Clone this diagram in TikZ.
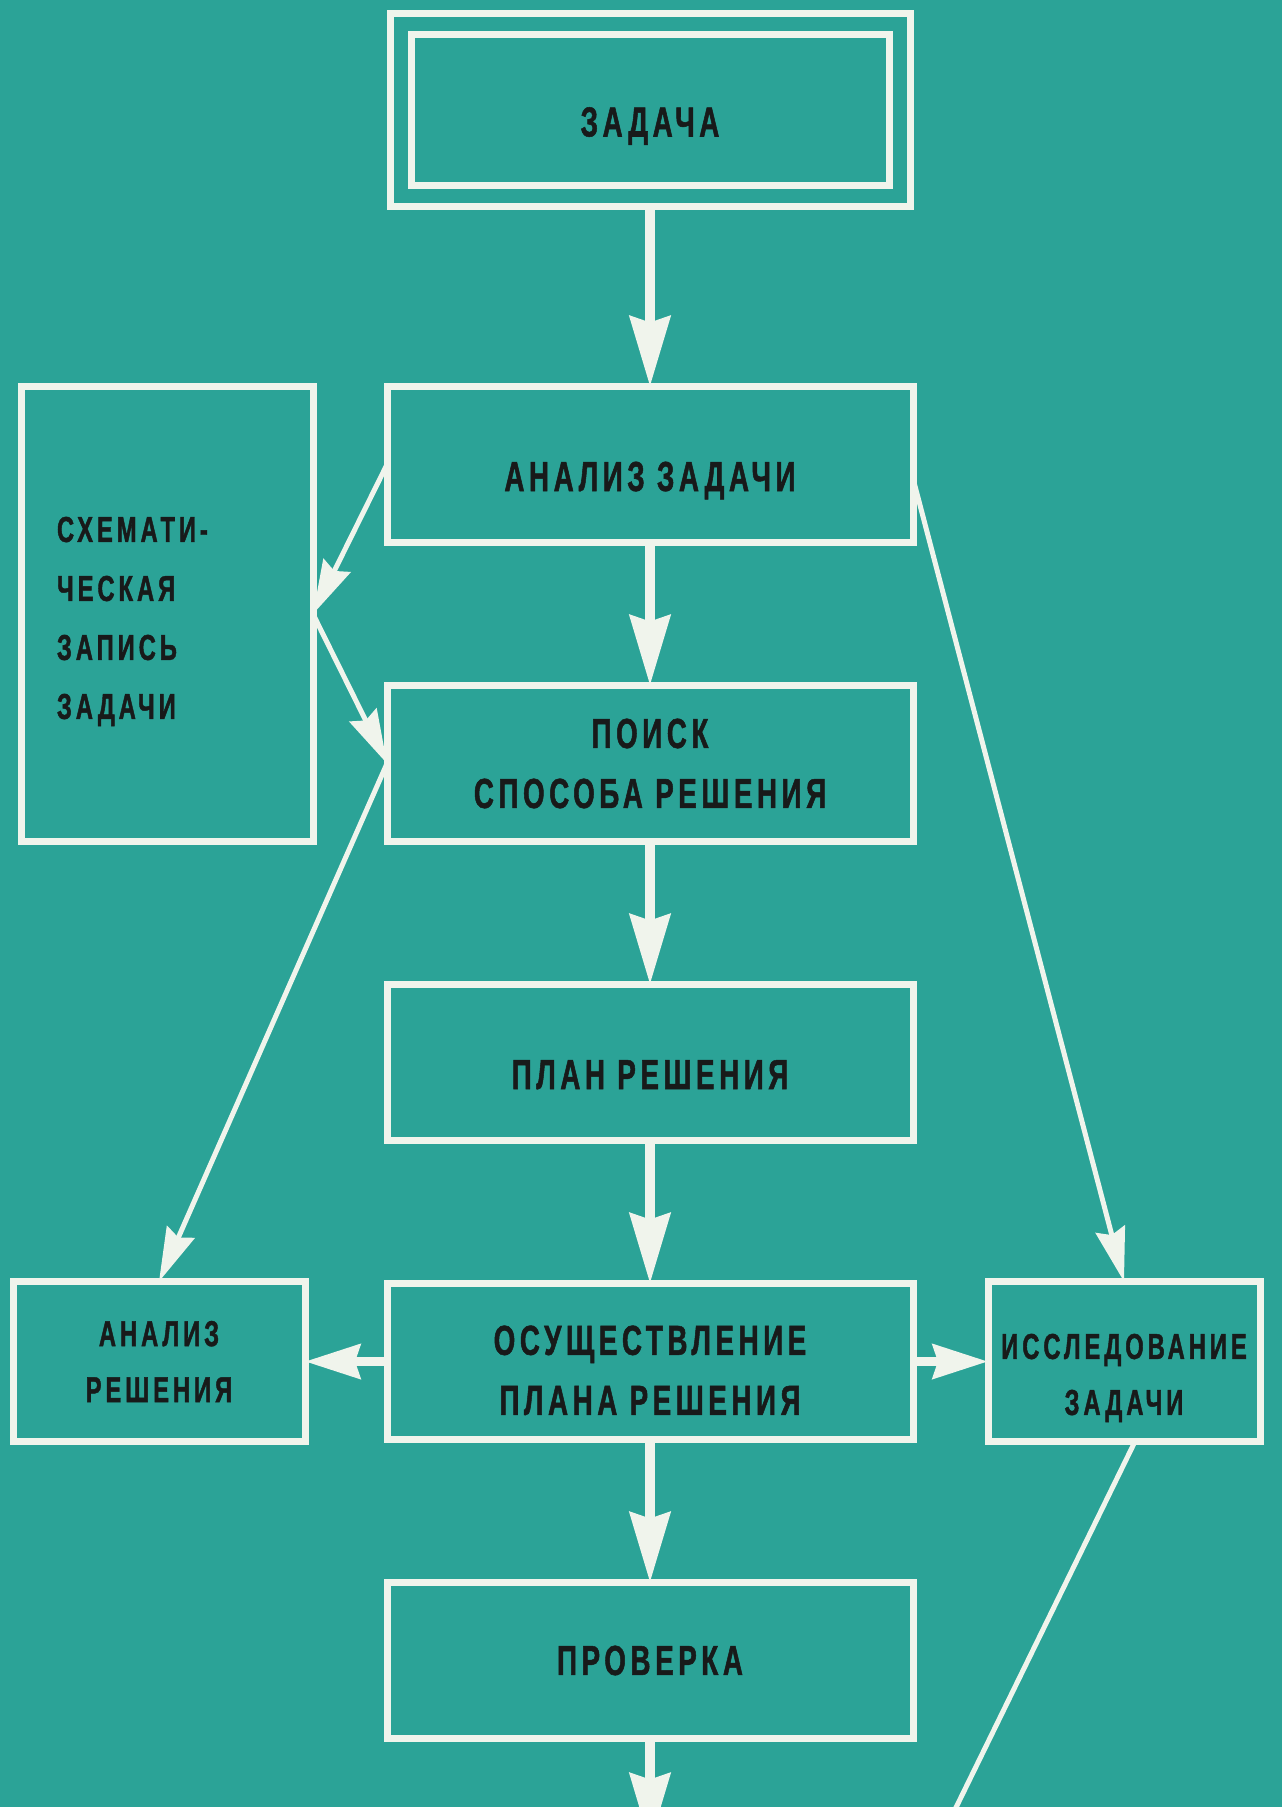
\documentclass[tikz,border=0pt]{standalone}
\usepackage{fontspec}
\newfontfamily\boxfont{Liberation Sans}[FakeStretch=0.66,LetterSpace=11,FakeBold=1.2]
\usetikzlibrary{arrows.meta, positioning, calc}

\definecolor{sea}{RGB}{43,163,151}
\definecolor{chalk}{RGB}{240,244,236}
\definecolor{ink}{RGB}{24,26,26}

\begin{document}
\begin{tikzpicture}[
    x=1pt, y=-1pt,
    node distance=143pt,
    box/.style={rectangle, draw=chalk, line width=7pt, minimum width=526pt, minimum height=156pt, outer sep=0pt, text=ink, align=center, font=\boxfont\bfseries\fontsize{42}{60}\selectfont},
    lowered/.style={text height=53pt, text depth=0pt},
    sidebox/.style={box, minimum width=292pt, minimum height=160pt, font=\boxfont\bfseries\fontsize{36}{56}\selectfont},
    arrow/.style={chalk, line width=10pt, -{Stealth[length=70pt, width=40pt, inset=6pt]}},
    sidearrow/.style={chalk, line width=9pt, -{Stealth[length=55pt, width=34pt, inset=5pt]}},
    thinarrow/.style={chalk, line width=5pt, -{Stealth[length=54pt, width=30pt, inset=6pt]}}
]

% Background
\useasboundingbox (0,0) rectangle (1282,1807);
\clip (0,0) rectangle (1282,1807);
\fill[sea] (0,0) rectangle (1282,1807);

% Main chain
\node[box, lowered, double=sea, double distance=14pt, outer sep=10.5pt, minimum width=499pt, minimum height=172pt] (task) at (650,110) {ЗАДАЧА};
\node[box, lowered, below=180pt of task] (anz) {АНАЛИЗ ЗАДАЧИ};
\node[box, below=of anz] (search) {ПОИСК\\СПОСОБА РЕШЕНИЯ};
\node[box, lowered, below=of search] (plan) {ПЛАН РЕШЕНИЯ};
\node[box, below=of plan] (run) {\rule{0pt}{47pt}ОСУЩЕСТВЛЕНИЕ\\ПЛАНА РЕШЕНИЯ};
\node[box, below=of run] (check) {ПРОВЕРКА};

% Side boxes
\node[sidebox, minimum height=455pt, text width=220pt, align=left, font=\boxfont\bfseries\fontsize{36}{59}\selectfont, below left=0pt and 74pt of anz.north west] (sketch) {\rule{0pt}{40pt}СХЕМАТИ-\\ЧЕСКАЯ\\ЗАПИСЬ\\ЗАДАЧИ};
\node[sidebox, left=82pt of run] (review) {АНАЛИЗ\\РЕШЕНИЯ};
\node[sidebox, minimum width=272pt, right=75pt of run] (study) {\rule{0pt}{58pt}ИССЛЕДОВАНИЕ\\ЗАДАЧИ};

% Ends that run off the page
\coordinate[below=105pt of check] (next);
\coordinate (back) at (945,1830);

% Arrows
\draw[arrow] (task) -- (anz);
\draw[arrow] (anz) -- (search);
\draw[arrow] (search) -- (plan);
\draw[arrow] (plan) -- (run);
\draw[arrow] (run) -- (check);
\draw[arrow] (check) -- (next);
\draw[sidearrow] (run) -- (review);
\draw[sidearrow] (run) -- (study);
\draw[thinarrow] (anz.west) -- (sketch.east);
\draw[thinarrow] (sketch.east) -- (search.west);
\draw[thinarrow] (search.west) -- (review.north);
\draw[thinarrow] ([yshift=-14pt]anz.east) -- (study.north);
\draw[chalk, line width=5pt] ([xshift=11pt]study.south) -- (back);

\end{tikzpicture}
\end{document}
